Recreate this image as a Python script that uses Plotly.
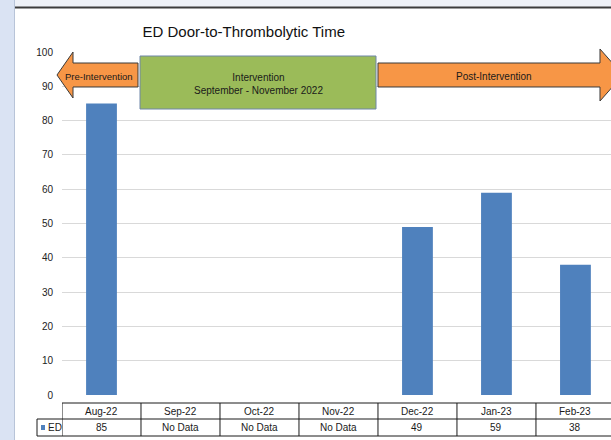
import plotly.graph_objects as go

categories = ["Aug-22", "Sep-22", "Oct-22", "Nov-22", "Dec-22", "Jan-23", "Feb-23"]
ed_values = [85, None, None, None, 49, 59, 38]
table_labels = ["85", "No Data", "No Data", "No Data", "49", "59", "38"]
series_name = "ED"
title_text = "ED Door-to-Thrombolytic Time"
phase_labels = ["Pre-Intervention", "Intervention<br>September - November 2022", "Post-Intervention"]

W, H = 611, 440
L, R, T, B = 62, 0, 52, 45
PW, PH = W - L - R, H - T - B
FONT = "Liberation Sans, Arial, sans-serif"


def px(x):
    return (x - L) / PW


def py(y):
    return (H - B - y) / PH


def label(x, y, text, xref="paper", xanchor="center", size=10):
    return dict(xref=xref, yref="paper", x=x, y=y, text=text, showarrow=False,
                xanchor=xanchor, yanchor="middle", align="center",
                font=dict(family=FONT, size=size, color="#1a1a1a"))


fig = go.Figure()
fig.add_trace(go.Bar(
    x=categories, y=ed_values, name=series_name,
    marker=dict(color="#4f81bd", line=dict(width=0)),
    width=0.39, showlegend=False, hoverinfo="skip",
))

shapes = []
annotations = []

# window chrome: left strip and top band
shapes.append(dict(type="rect", xref="paper", yref="paper", x0=px(0), x1=px(14), y0=py(H), y1=py(0),
                   fillcolor="#dae3f3", line=dict(width=0), layer="below"))
shapes.append(dict(type="line", xref="paper", yref="paper", x0=px(14.5), x1=px(14.5), y0=py(H), y1=py(0),
                   line=dict(color="#b8c4d8", width=1)))
shapes.append(dict(type="rect", xref="paper", yref="paper", x0=px(15), x1=px(W), y0=py(7), y1=py(0),
                   fillcolor="#eef1f7", line=dict(width=0), layer="below"))
shapes.append(dict(type="line", xref="paper", yref="paper", x0=px(15), x1=px(W), y0=py(7.5), y1=py(7.5),
                   line=dict(color="#3c3c3c", width=2)))

# Pre-intervention arrow (pointing left)
pre = [(57, 75), (73, 52), (73, 63), (138, 63), (138, 87), (73, 87), (73, 98)]
path = "M " + " L ".join(f"{px(a):.5f},{py(b):.5f}" for a, b in pre) + " Z"
shapes.append(dict(type="path", xref="paper", yref="paper", path=path,
                   fillcolor="#f79646", line=dict(color="#3a3a3a", width=1)))
annotations.append(label(px(99), py(76), phase_labels[0], size=9.5))

# Intervention box
shapes.append(dict(type="rect", xref="paper", yref="paper", x0=px(140), x1=px(376), y0=py(109), y1=py(56),
                   fillcolor="#9bbb59", line=dict(color="#6f86a8", width=1)))
annotations.append(label(px(258), py(83.5), phase_labels[1]))

# Post-intervention arrow (pointing right)
post = [(378, 63), (600, 63), (600, 49), (623, 75), (600, 101), (600, 87), (378, 87)]
path = "M " + " L ".join(f"{px(a):.5f},{py(b):.5f}" for a, b in post) + " Z"
shapes.append(dict(type="path", xref="paper", yref="paper", path=path,
                   fillcolor="#f79646", line=dict(color="#3a3a3a", width=1)))
annotations.append(label(px(494), py(76), phase_labels[2]))

# Data table
n = len(categories)
tl = dict(color="#1a1a1a", width=1)
shapes.append(dict(type="line", xref="paper", yref="paper", x0=px(62), x1=px(W + 5), y0=py(403), y1=py(403), line=tl))
shapes.append(dict(type="line", xref="paper", yref="paper", x0=px(37), x1=px(W + 5), y0=py(419), y1=py(419), line=tl))
shapes.append(dict(type="line", xref="paper", yref="paper", x0=px(37), x1=px(W + 5), y0=py(436), y1=py(436), line=tl))
shapes.append(dict(type="line", xref="paper", yref="paper", x0=px(37), x1=px(37), y0=py(419), y1=py(436), line=tl))
for i in range(n + 1):
    shapes.append(dict(type="line", xref="x", yref="paper", x0=i - 0.5, x1=i - 0.5, y0=py(403), y1=py(436), line=tl))
for c, v in zip(categories, table_labels):
    annotations.append(label(c, py(411), c, xref="x"))
    annotations.append(label(c, py(427.5), v, xref="x"))
# legend key
shapes.append(dict(type="rect", xref="paper", yref="paper", x0=px(41), x1=px(45), y0=py(430), y1=py(425),
                   fillcolor="#4f81bd", line=dict(width=0)))
annotations.append(label(px(46), py(427.5), series_name, xanchor="left"))

fig.update_layout(
    width=W, height=H,
    margin=dict(l=L, r=R, t=T, b=B, pad=0),
    paper_bgcolor="white", plot_bgcolor="white",
    title=dict(text=title_text, x=px(281), xanchor="center", y=1 - 32 / H, yanchor="middle",
               yref="container", font=dict(family=FONT, size=15, color="#111")),
    shapes=shapes, annotations=annotations,
    showlegend=False,
    bargap=0.6,
)
fig.update_xaxes(type="category", range=[-0.5, n - 0.55], showticklabels=False, showgrid=False,
                 showline=False, zeroline=False, ticks="")
fig.update_yaxes(range=[0, 100], dtick=10, showgrid=True, gridcolor="#d9d9d9", gridwidth=1,
                 zeroline=False, showline=False, ticks="", ticklabelstandoff=8,
                 tickfont=dict(family=FONT, size=10, color="#222"))

fig.write_html("out.html", config={"displayModeBar": False},
               post_script="document.body.style.margin='0';")
